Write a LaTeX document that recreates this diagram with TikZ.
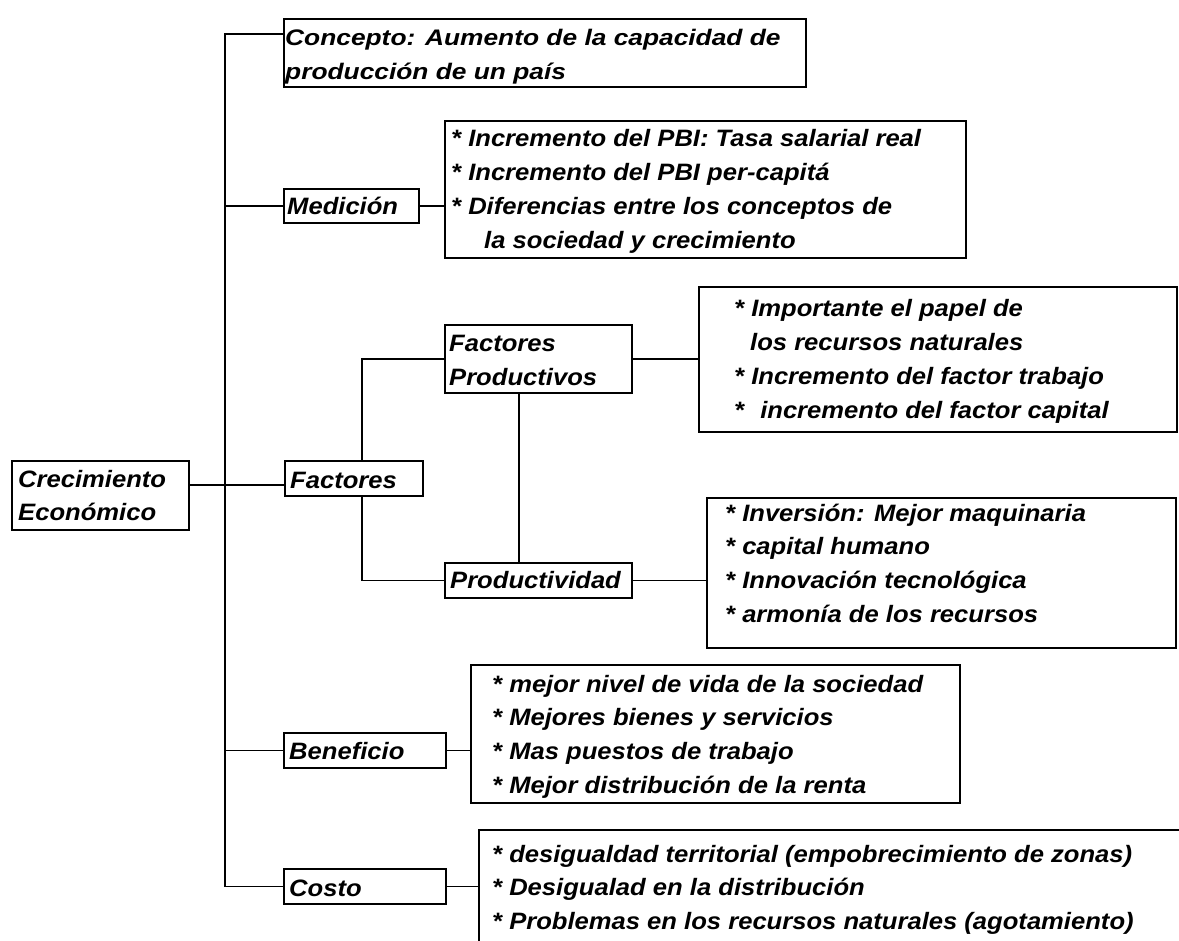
\documentclass[tikz,border=0pt]{standalone}
\usepackage{fontspec}
\newfontfamily\arialf{Liberation Sans}[FakeStretch=1.08]
\newfontfamily\arialw{Liberation Sans}[FakeStretch=1.17]
\newcommand{\blk}[1]{\begin{tabular}[t]{@{}l@{}}#1\end{tabular}}
\newcommand{\bul}{{*}}
\begin{document}
\begin{tikzpicture}[x=1pt,y=-1pt,
  box/.style={draw, line width=1.6pt, inner sep=0pt, outer sep=0pt, anchor=north west},
  txt/.style={inner sep=0pt, anchor=base west, font=\arialf\bfseries\itshape\fontsize{23.7}{33.7}\selectfont},
  widetxt/.style={txt, font=\arialw\bfseries\itshape\fontsize{22.5}{34}\selectfont},
  conn/.style={line width=1.6pt}]
\useasboundingbox (0,0) rectangle (1179,941);
\clip (0,0) rectangle (1179,941);
\fill[white] (0,0) rectangle (1179,941);

% boxes
\node[box, minimum width=177pt, minimum height=69pt] (crec) at (12,461) {};
\node[box, minimum width=522pt, minimum height=68pt] (conc) at (284,19) {};
\node[box, minimum width=135pt, minimum height=34pt] (med) at (284,189) {};
\node[box, minimum width=521pt, minimum height=137pt] (medl) at (445,121) {};
\node[box, minimum width=138pt, minimum height=35pt] (fac) at (285,461) {};
\node[box, minimum width=187pt, minimum height=68pt] (fp) at (445,325) {};
\node[box, minimum width=478pt, minimum height=145pt] (fpl) at (699,287) {};
\node[box, minimum width=187pt, minimum height=35pt] (prod) at (445,563) {};
\node[box, minimum width=469pt, minimum height=150pt] (prodl) at (707,498) {};
\node[box, minimum width=162pt, minimum height=35pt] (ben) at (284,733) {};
\node[box, minimum width=489pt, minimum height=138pt] (benl) at (471,665) {};
\node[box, minimum width=162pt, minimum height=35pt] (cost) at (284,869) {};
\node[box, minimum width=760pt, minimum height=160pt] (costl) at (479,830) {};

% texts
\node[txt] (tcrec) at (18,487) {\blk{Crecimiento\\Económico}};
\node[widetxt] (tconc) at (285,46) {\blk{Concepto: Aumento de la capacidad de\\producción de un país}};
\node[txt] (tmed) at (287,215) {Medición};
\node[txt] (tmedl) at (451,147) {\blk{\bul{} Incremento del PBI: Tasa salarial real\\\bul{} Incremento del PBI per-capitá\\\bul{} Diferencias entre los conceptos de\\\hspace*{33pt}la sociedad y crecimiento}};
\node[txt] (tfac) at (290,488) {Factores};
\node[txt] (tfp) at (449,352) {\blk{Factores\\Productivos}};
\node[txt] (tfpl) at (734,317) {\blk{\bul{} Importante el papel de\\\hspace*{16pt}los recursos naturales\\\bul{} Incremento del factor trabajo\\\bul{} \hspace*{9pt}incremento del factor capital}};
\node[txt] (tprod) at (450,588) {Productividad};
\node[txt] (tprodl) at (725,521) {\blk{\bul{} Inversión: Mejor maquinaria\\\bul{} capital humano\\\bul{} Innovación tecnológica\\\bul{} armonía de los recursos}};
\node[txt] (tben) at (289,759) {Beneficio};
\node[txt] (tbenl) at (492,692) {\blk{\bul{} mejor nivel de vida de la sociedad\\\bul{} Mejores bienes y servicios\\\bul{} Mas puestos de trabajo\\\bul{} Mejor distribución de la renta}};
\node[txt] (tcost) at (289,896) {Costo};
\node[txt] (tcostl) at (492,862) {\blk{\bul{} desigualdad territorial (empobrecimiento de zonas)\\\bul{} Desigualad en la distribución\\\bul{} Problemas en los recursos naturales (agotamiento)}};

% connectors
\coordinate (T) at (225,0);
\coordinate (FX) at (362,0);
\coordinate (jf) at (225,485);
\draw[conn] ([yshift=-15pt]conc.north west) -| (T |- cost.west) -- (cost.west);
\draw[conn] (T |- med.west) -- (med.west);
\draw[conn] (T |- ben.west) -- (ben.west);
\draw[conn] (crec.east |- jf) -- (fac.west |- jf);
\draw[conn] (med.east) -- (med.east -| medl.west);
\draw[conn] (fp.west) -| (FX |- fac.north);
\draw[conn] (prod.west) -| (FX |- fac.south);
\draw[conn] (fp.east) -- (fp.east -| fpl.west);
\draw[conn] ([xshift=-19.5pt]fp.south) -- ([xshift=-19.5pt]prod.north);
\draw[conn] (prod.east) -- (prod.east -| prodl.west);
\draw[conn] (ben.east) -- (ben.east -| benl.west);
\draw[conn] (cost.east) -- (cost.east -| costl.west);
\end{tikzpicture}
\end{document}
